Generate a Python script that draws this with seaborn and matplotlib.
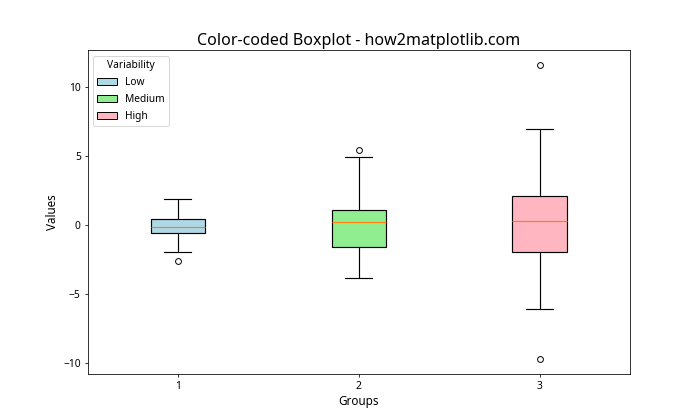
import matplotlib
matplotlib.use("Agg")
import matplotlib.pyplot as plt
from matplotlib.patches import Patch
import seaborn as sns
import pandas as pd

plt.rcParams['font.family'] = ['Noto Sans', 'DejaVu Sans']

group_labels = ["1", "2", "3"]
low_values = [-2.60, -1.96, -0.58, -0.35, -0.14, 0.10, 0.43, 1.20, 1.88]
medium_values = [-3.84, -2.50, -1.59, -0.70, 0.22, 0.70, 1.09, 4.93, 5.43]
high_values = [-9.71, -6.09, -1.96, -0.80, 0.29, 1.20, 2.10, 6.96, 11.60]
legend_labels = ["Low", "Medium", "High"]
box_colors = ["lightblue", "lightgreen", "lightpink"]

df = pd.DataFrame({
    "group": [group_labels[0]] * len(low_values)
    + [group_labels[1]] * len(medium_values)
    + [group_labels[2]] * len(high_values),
    "value": low_values + medium_values + high_values,
})

fig, ax = plt.subplots(figsize=(10, 6), dpi=70)
sns.boxplot(
    data=df, x="group", y="value", hue="group", order=group_labels,
    hue_order=group_labels, palette=box_colors, legend=False, ax=ax,
    width=0.3, linecolor="black", linewidth=1.2, saturation=1,
    medianprops=dict(color="#ff7f0e", linewidth=1.2),
    flierprops=dict(marker="o", markerfacecolor="none",
                    markeredgecolor="black", markersize=6),
)
ax.set_xlim(-0.5, 2.5)
ax.set_ylim(-10.76, 12.66)
ax.set_title("Color-coded Boxplot - how2matplotlib.com", fontsize=16.5)
ax.set_xlabel("Groups", fontsize=12)
ax.set_ylabel("Values", fontsize=12)
ax.tick_params(labelsize=10.5)

handles = [Patch(facecolor=c, edgecolor="black", label=l)
           for c, l in zip(box_colors, legend_labels)]
ax.legend(handles=handles, title="Variability", loc="upper left", fontsize=10.5,
          title_fontsize=10.5, labelspacing=0.6, handlelength=2.0)

fig.subplots_adjust(left=0.125, right=0.9, top=0.88, bottom=0.11)
fig.savefig("out.png", dpi=70)
